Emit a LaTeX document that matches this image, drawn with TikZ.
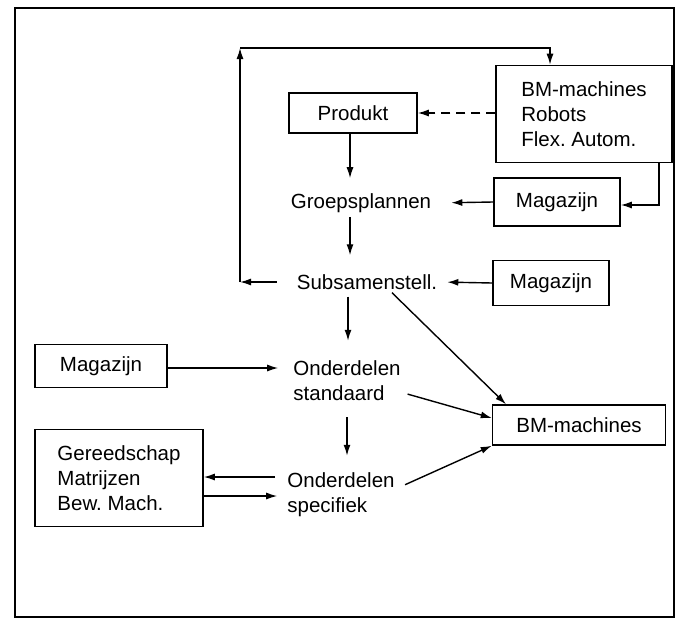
\documentclass[tikz,border=0pt]{standalone}
\usepackage{fontspec}
\setmainfont{Liberation Sans}
\usetikzlibrary{arrows.meta}
\frenchspacing

\tikzset{
  box/.style={draw, line width=1.5pt, minimum height=44pt, inner sep=3pt},
  plain/.style={inner sep=3pt},
  link/.style={->, line width=1.4pt},
}

\begin{document}
\begin{tikzpicture}[x=1pt, y=-1pt, >={Latex[length=11pt,width=7pt]},
    every node/.style={font=\fontsize{20.5}{25}\selectfont}]
  \useasboundingbox (0,0) rectangle (679,626);
  \draw[line width=1.6pt] (15,8) rectangle (674,617);

  % boxes
  \node[box, minimum width=176pt, minimum height=97pt, align=left] (bmrob) at (584,114)
    {BM-machines\\Robots\\Flex. Autom.};
  \node[box, minimum width=128pt, minimum height=40pt] (prod) at (353,113) {Produkt};
  \node[box, minimum width=126pt, minimum height=48pt] (mag1) at (557,202) {Magazijn};
  \node[box, minimum width=116pt, minimum height=45pt] (mag2) at (551,283) {Magazijn};
  \node[box, minimum width=132pt, minimum height=43pt] (mag3) at (101,366) {Magazijn};
  \node[box, minimum width=168pt, minimum height=97pt, align=left] (gered) at (119,478)
    {Gereedschap\\Matrijzen\\Bew. Mach.};
  \node[box, minimum width=173pt, minimum height=40pt] (bm2) at (579,425) {BM-machines};

  % steps
  \node[plain] (groep) at (361,203) {Groepsplannen};
  \node[plain] (subs) at (367,282) {Subsamenstell.};
  \node[plain, align=left] (std) at (347,381) {Onderdelen\\standaard};
  \node[plain, align=left] (spec) at (341,495) {Onderdelen\\specifiek};

  \coordinate (axis) at (350,0);
  \coordinate (lc) at (240,282);
  \coordinate (lt) at (240,48);
  \coordinate (ltr) at (550,48);

  % loop back to the machines
  \draw[link, shorten <=17pt] (subs.west) -- (lc);
  \draw[link] (lc) -- (lt);
  \draw[link] (lt) -- (ltr) -- (ltr |- bmrob.north);
  \draw[link, dashed, dash pattern=on 9pt off 6pt] (bmrob.west |- prod.east) -- (prod.east);

  % main column
  \draw[link, shorten >=12pt] (prod.south -| axis) -- (groep.north -| axis);
  \draw[link, shorten <=1pt, shorten >=16pt] (groep.south -| axis) -- (subs.north -| axis);
  \draw[link, shorten <=4pt, shorten >=17pt] ([xshift=-2pt]subs.south -| axis) -- ([xshift=-2pt]std.north -| axis);
  \draw[link, shorten <=13pt, shorten >=14pt] ([xshift=-3pt]std.south -| axis) -- ([xshift=-3pt]spec.north -| axis);

  % stores
  \draw[link, shorten >=17pt] (mag1.west) -- (groep.east);
  \draw[link] ([xshift=75pt]bmrob.south) |- ([yshift=-3pt]mag1.east);
  \draw[link, shorten >=7pt] (mag2.west) -- (subs.east);
  \draw[link, shorten >=12pt] ([yshift=-2pt]mag3.east) -- ([yshift=-2pt]mag3.east -| std.west);

  % tools
  \draw[link, shorten <=9pt] ([yshift=1pt]gered.east -| spec.west) -- ([yshift=1pt]gered.east);
  \draw[link, shorten >=7pt] ([yshift=-18pt]gered.east) -- ([yshift=-18pt]gered.east -| spec.west);

  % to the machines
  \draw[link] ([xshift=25pt]subs.south) -- ([xshift=-73pt]bm2.north);
  \draw[link, shorten <=4pt] ([yshift=-12pt]std.east) -- ([yshift=7pt]bm2.west);
  \draw[link, shorten <=8pt] ([yshift=7pt]spec.east) -- (bm2.south west);
\end{tikzpicture}
\end{document}
